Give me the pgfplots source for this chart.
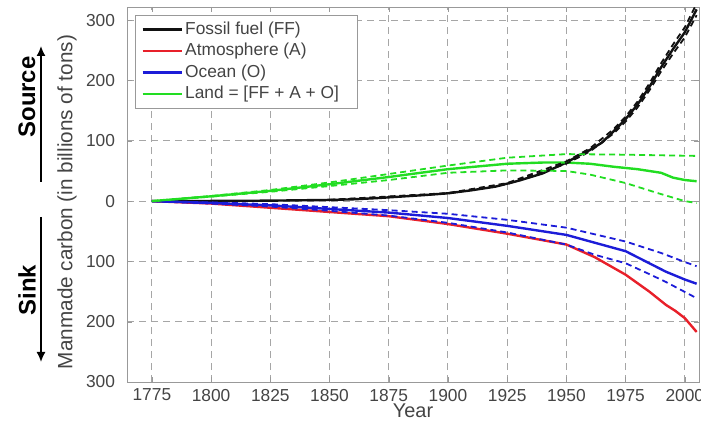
\documentclass[border=0pt]{standalone}
\usepackage{fontspec}
\setmainfont{Liberation Sans}
\usepackage{pgfplots}
\pgfplotsset{compat=1.18}
\usetikzlibrary{arrows.meta}
\definecolor{ffblack}{HTML}{111111}
\definecolor{atmred}{HTML}{E8202A}
\definecolor{oceanblue}{HTML}{1C1CD8}
\definecolor{landgreen}{HTML}{22DD22}
\definecolor{labelgray}{HTML}{444444}

\begin{document}
\begin{tikzpicture}
\begin{axis}[
width=286bp, height=187.5bp, scale only axis,
xmin=1764.5, xmax=2006,
ymin=-300, ymax=322,
xtick={1775,1800,...,2000},
ytick={-300,-200,...,300},
yticklabels={300,200,100,0,100,200,300},
/pgf/number format/1000 sep={},
/pgf/number format/assume math mode=true,
tick label style={font=\fontsize{8.7}{9}\selectfont, text=labelgray},
yticklabel style={xshift=-2.5bp},
xmajorgrids, ymajorgrids,
grid style={gray!70, dash pattern=on 3.5bp off 2.5bp, line width=0.45bp},
axis line style={gray!80},
tick style={gray!80},
tick align=inside,
major tick length=2.5bp,
xlabel={Year},
xlabel style={font=\fontsize{10}{11}\selectfont, text=labelgray,
  at={(axis description cs:0.5,0)}, anchor=center, yshift=-14.5bp},
ylabel={Manmade carbon (in billions of tons)},
ylabel style={font=\fontsize{10.4}{11}\selectfont, text=labelgray,
  at={(axis description cs:0,0.48)}, anchor=center, yshift=30bp},
legend cell align=left,
legend image code/.code={\draw[#1] (0bp,0bp) -- (19.5bp,0bp);},
legend style={at={(axis description cs:0,1)}, anchor=north west,
  xshift=4bp, yshift=-4bp, draw=gray!80, fill=white,
  font=\fontsize{8.7}{9}\selectfont, text=labelgray,
  row sep=0bp, inner xsep=3bp, inner ysep=1.8bp,
  nodes={text height=6.5bp, text depth=1.8bp, inner sep=1.2bp}},
]

% Fossil fuel (FF)
\addplot[ffblack, line width=1.2bp] coordinates {
(1775,0) (1800,0.3) (1825,0.8) (1850,2) (1860,3) (1870,5) (1880,7.5)
(1890,10) (1900,13) (1910,18) (1920,24) (1925,29) (1930,34) (1940,46)
(1950,64) (1955,75) (1960,85) (1965,97) (1970,116) (1975,136) (1980,160)
(1985,189) (1990,222) (1995,252) (2000,280) (2005,318)
};
\addlegendentry{Fossil fuel (FF)}

% Atmosphere (A)
\addplot[atmred, line width=1.2bp] coordinates {
(1775,0) (1800,-4) (1825,-11) (1850,-18) (1875,-25) (1900,-38) (1925,-54)
(1950,-72) (1962,-93) (1975,-122) (1985,-150) (1992,-172) (1996,-182)
(2000,-194) (2005,-217)
};
\addlegendentry{Atmosphere (A)}

% Ocean (O)
\addplot[oceanblue, line width=1.2bp] coordinates {
(1775,0) (1800,-3) (1825,-7) (1850,-13) (1875,-19) (1900,-28) (1925,-41)
(1950,-56) (1962,-69) (1975,-83) (1985,-103) (1992,-117) (2000,-130)
(2005,-137)
};
\addlegendentry{Ocean (O)}

% Land
\addplot[landgreen, line width=1.2bp] coordinates {
(1775,0) (1800,8) (1825,17) (1850,28) (1875,40) (1900,53) (1925,62)
(1940,64) (1950,64) (1960,62) (1970,57) (1975,55) (1980,53) (1985,50)
(1990,47) (1995,39) (2000,35) (2005,33)
};
\addlegendentry{Land = [FF + A + O]\kern5bp\rule{0pt}{0pt}}

% uncertainty bounds
\addplot[forget plot, ffblack, line width=0.9bp, dash pattern=on 3bp off 2bp] coordinates {
(1850,2.1) (1900,13.4) (1925,29.9) (1950,65.9) (1960,87.6) (1970,119.5)
(1975,140.1) (1980,164.8) (1985,194.7) (1990,228.7) (1995,259.6)
(2000,288.4) (2005,327.5)
};
\addplot[forget plot, ffblack, line width=0.9bp, dash pattern=on 3bp off 2bp] coordinates {
(1850,1.9) (1900,12.6) (1925,28.1) (1950,62.1) (1960,82.5) (1970,112.5)
(1975,131.9) (1980,155.2) (1985,183.3) (1990,215.3) (1995,244.4)
(2000,271.6) (2005,308.5)
};
\addplot[forget plot, oceanblue, line width=0.9bp, dash pattern=on 3bp off 2bp] coordinates {
(1775,0) (1800,-2) (1825,-5) (1850,-10) (1875,-15) (1900,-21) (1925,-31)
(1950,-44) (1975,-67) (1990,-86) (2000,-101) (2005,-108)
};
\addplot[forget plot, oceanblue, line width=0.9bp, dash pattern=on 3bp off 2bp] coordinates {
(1775,0) (1800,-4) (1825,-9) (1850,-16) (1875,-24) (1900,-36) (1925,-52)
(1950,-72) (1962,-89) (1975,-103) (1985,-121) (1992,-134) (2005,-161)
};
\addplot[forget plot, landgreen, line width=0.9bp, dash pattern=on 3bp off 2bp] coordinates {
(1775,0) (1800,8.5) (1825,18.5) (1850,31) (1875,45) (1900,59) (1925,72)
(1950,78) (1975,77) (2005,75)
};
\addplot[forget plot, landgreen, line width=0.9bp, dash pattern=on 3bp off 2bp] coordinates {
(1775,0) (1800,7.5) (1825,15.5) (1850,25) (1875,35) (1900,47) (1925,51)
(1950,50) (1960,44) (1975,30) (1988,14) (2000,0) (2005,-3)
};

\end{axis}

% Source / Sink annotations
\node[rotate=90, font=\bfseries\fontsize{12}{13}\selectfont] at (-50bp,142.5bp) {Source};
\draw[line width=0.8bp, -{Latex[length=5bp,width=4.5bp]}] (-43bp,100bp) -- (-43bp,168bp);
\node[rotate=90, font=\bfseries\fontsize{12}{13}\selectfont] at (-50bp,46bp) {Sink};
\draw[line width=0.8bp, -{Latex[length=5bp,width=4.5bp]}] (-43bp,82.5bp) -- (-43bp,10bp);

\pgfresetboundingbox
\useasboundingbox (-63.5bp,-21.5bp) rectangle (287bp,191bp);
\end{tikzpicture}
\end{document}
